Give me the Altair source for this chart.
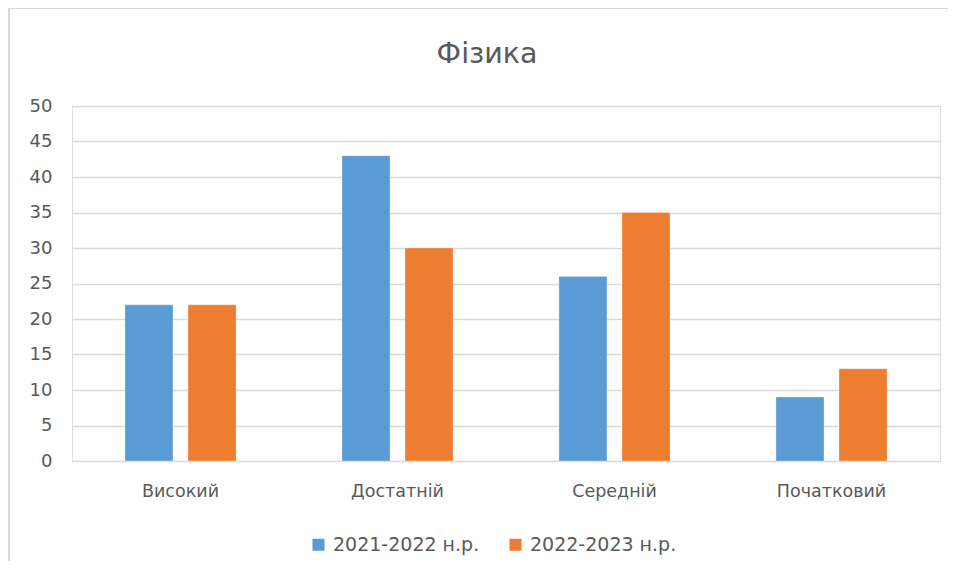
import altair as alt
import pandas as pd

categories = ["Високий", "Достатній", "Середній", "Початковий"]
series = ["2021-2022 н.р.", "2022-2023 н.р."]
values_2021 = [22, 43, 26, 9]
values_2022 = [22, 30, 35, 13]
y_ticks = [0, 5, 10, 15, 20, 25, 30, 35, 40, 45, 50]

rows = []
for c, a, b in zip(categories, values_2021, values_2022):
    rows.append({"cat": c, "series": series[0], "value": a})
    rows.append({"cat": c, "series": series[1], "value": b})
df = pd.DataFrame(rows)

FONT = "DejaVu Sans"
GRAY = "#595959"

bars = alt.Chart(df).mark_bar(stroke="white", strokeWidth=0.6, strokeOpacity=0.5).encode(
    x=alt.X("cat:N", sort=categories, title=None,
            scale=alt.Scale(paddingInner=0.488, paddingOuter=0.244),
            axis=alt.Axis(labelAngle=0, labelFontSize=17.5, labelColor=GRAY, labelFont=FONT,
                          labelPadding=21, ticks=False, domain=False, grid=False)),
    xOffset=alt.XOffset("series:N", sort=series,
                        scale=alt.Scale(paddingInner=0.238, paddingOuter=0)),
    y=alt.Y("value:Q", title=None,
            scale=alt.Scale(domain=[0, 50], nice=False),
            axis=alt.Axis(values=y_ticks, labelFontSize=18, labelColor=GRAY, labelFont=FONT,
                          labelPadding=20, ticks=False, domain=False,
                          gridColor="#D9D9D9", gridWidth=1.6)),
    color=alt.Color("series:N", sort=series,
                    scale=alt.Scale(domain=series, range=["#5B9BD5", "#ED7D31"]),
                    legend=alt.Legend(title=None, orient="none", direction="horizontal",
                                      legendX=237, legendY=429,
                                      symbolType="square", symbolSize=144,
                                      symbolStrokeWidth=0, labelFontSize=19,
                                      labelColor=GRAY, labelFont=FONT,
                                      columnPadding=26, labelOffset=5)),
)

one = pd.DataFrame({"v": [0]})
left_line = alt.Chart(one).mark_rule(color="#D9D9D9", strokeWidth=2, clip=False).encode(
    x=alt.value(-63), y=alt.value(-99), y2=alt.value(520)
)
top_line = alt.Chart(one).mark_rule(color="#D9D9D9", strokeWidth=2, clip=False).encode(
    x=alt.value(-64), x2=alt.value(960), y=alt.value(-98)
)

chart = alt.layer(left_line, top_line, bars).properties(
    width=868, height=355,
    title=alt.TitleParams("Фізика", fontSize=28.5, color=GRAY, font=FONT,
                          fontWeight="normal", anchor="middle", offset=-62, dx=-19),
    autosize=alt.AutoSizeParams(type="none"),
    padding={"left": 64, "top": 98, "right": 8, "bottom": 100},
).configure_view(stroke=None).configure(background="white")

chart.save("out.html", embed_options={"renderer": "svg", "actions": False})
